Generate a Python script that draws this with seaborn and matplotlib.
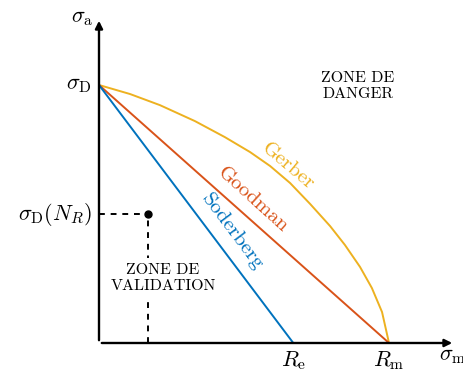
import numpy as np
import pandas as pd
import matplotlib
matplotlib.use('Agg')
import matplotlib.pyplot as plt
import seaborn as sns

# normalised values (Rm = 1, sigma_D = 1)
Rm = 1.0
Re = 0.67
sigma_D = 1.0
point_x = 0.17
point_y = 0.50

# Gerber curve
gerber_sm = [0, 0.107, 0.21, 0.331, 0.434, 0.521, 0.59, 0.659, 0.728, 0.797,
             0.848, 0.9, 0.941, 0.976, 1.0]
gerber_sa = [1.0, 0.965, 0.922, 0.860, 0.798, 0.740, 0.686, 0.620, 0.539, 0.453,
             0.380, 0.295, 0.213, 0.120, 0.0]

criteria = ['Gerber', 'Goodman', 'Soderberg']
colors = {'Gerber': '#EDB120', 'Goodman': '#D95319', 'Soderberg': '#0072BD'}

sns.set_style('white')
plt.rcParams['font.family'] = 'serif'
plt.rcParams['font.serif'] = ['cmr10', 'DejaVu Serif']
plt.rcParams['mathtext.fontset'] = 'cm'
plt.rcParams['axes.unicode_minus'] = False
plt.rcParams['text.color'] = 'black'

frames = [
    pd.DataFrame({'sm': gerber_sm, 'sa': gerber_sa, 'crit': 'Gerber'}),
    pd.DataFrame({'sm': [0, Rm], 'sa': [sigma_D, 0], 'crit': 'Goodman'}),
    pd.DataFrame({'sm': [0, Re], 'sa': [sigma_D, 0], 'crit': 'Soderberg'}),
]
df = pd.concat(frames, ignore_index=True)

fig = plt.figure(figsize=(4.64, 3.70), dpi=100)
ax = fig.add_axes([99 / 464, 27 / 370, 356 / 464, 325 / 370])
ax.set_xlim(0, 356 / 290)
ax.set_ylim(0, 325 / 258)

sns.lineplot(data=df, x='sm', y='sa', hue='crit', palette=colors,
             linewidth=1.4, legend=False, ax=ax, sort=False, estimator=None)

# dashed guides to the validation point
ax.plot([0, point_x], [point_y, point_y], ls=(0, (3, 3)), color='k', lw=1.4)
ax.plot([point_x, point_x], [0, point_y], ls=(0, (3, 3)), color='k', lw=1.4)
ax.plot(point_x, point_y, 'o', color='k', ms=5)

for s in ax.spines.values():
    s.set_visible(False)
ax.set_xticks([])
ax.set_yticks([])
ax.set_xlabel('')
ax.set_ylabel('')

# axes with arrows
ax.annotate('', xy=(1, 0), xytext=(0, 0), xycoords='axes fraction',
            arrowprops=dict(arrowstyle='-|>', color='k', lw=1.7, mutation_scale=11),
            annotation_clip=False)
ax.annotate('', xy=(0, 1), xytext=(0, 0), xycoords='axes fraction',
            arrowprops=dict(arrowstyle='-|>', color='k', lw=1.7, mutation_scale=11),
            annotation_clip=False)

fs = 16
ax.text(-0.015, 1.0, r'$\sigma_{\mathrm{a}}$', transform=ax.transAxes, ha='right', va='center', fontsize=fs)
ax.text(-0.025, sigma_D, r'$\sigma_{\mathrm{D}}$', ha='right', va='center', fontsize=fs)
ax.text(-0.025, point_y, r'$\sigma_{\mathrm{D}}(N_R)$', ha='right', va='center', fontsize=fs)
ax.text(Re, -0.025, r'$R_{\mathrm{e}}$', ha='center', va='top', fontsize=fs)
ax.text(Rm, -0.025, r'$R_{\mathrm{m}}$', ha='center', va='top', fontsize=fs)
ax.text(0.955, -0.04, r'$\sigma_{\mathrm{m}}$', transform=ax.transAxes, ha='left', va='center', fontsize=fs)

ax.text(0.893, 0.996, 'ZONE DE\nDANGER', ha='center', va='center', fontsize=11.5, linespacing=1.2)
ax.text(0.221, 0.252, 'ZONE DE\nVALIDATION', ha='center', va='center', fontsize=11.5, linespacing=1.2,
        bbox=dict(facecolor='white', edgecolor='none', pad=4))

ax.text(0.652, 0.685, 'Gerber', color=colors['Gerber'], rotation=-40, ha='center', va='center', fontsize=15)
ax.text(0.531, 0.556, 'Goodman', color=colors['Goodman'], rotation=-42, ha='center', va='center', fontsize=15)
ax.text(0.459, 0.430, 'Soderberg', color=colors['Soderberg'], rotation=-53, ha='center', va='center', fontsize=15)

fig.savefig('out.png', dpi=100)
